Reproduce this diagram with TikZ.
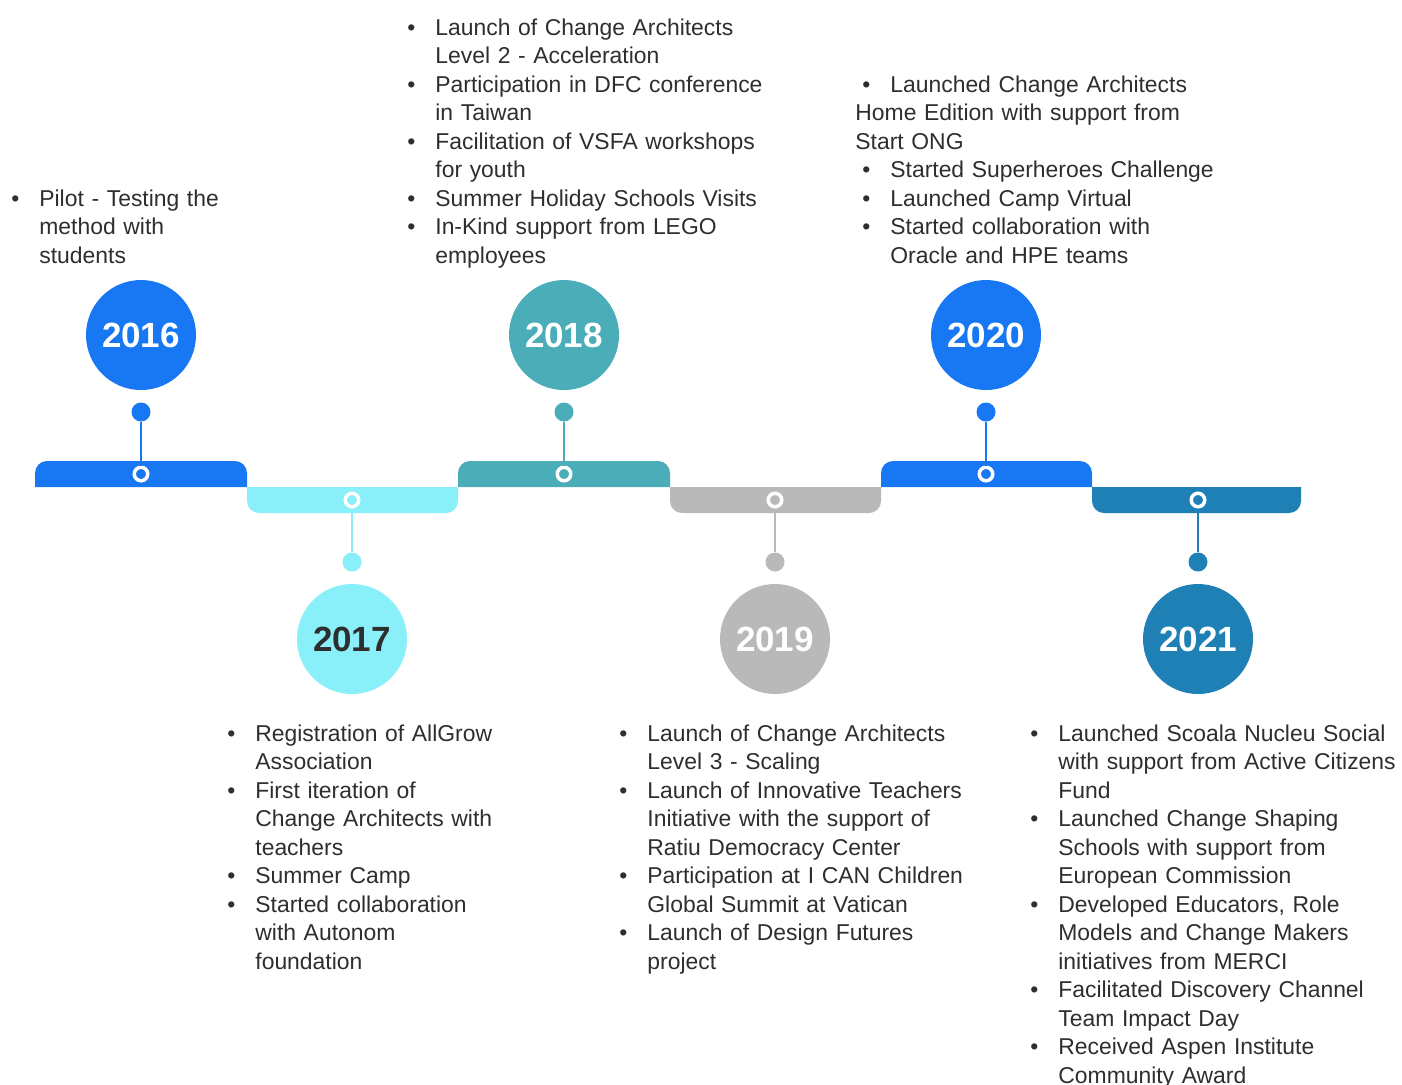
\documentclass[tikz,border=0pt]{standalone}
\usepackage{fontspec}
\setmainfont{Liberation Sans}
\usepackage{xcolor}
\usepackage{tikz}

\definecolor{cBlue}{HTML}{1877F2}
\definecolor{cCyan}{HTML}{89F0FA}
\definecolor{cTeal}{HTML}{4AADB8}
\definecolor{cGrey}{HTML}{B9B9B9}
\definecolor{cNavy}{HTML}{1E80B4}
\definecolor{cText}{HTML}{2E2E2E}

\newcommand{\bul}{\makebox[14pt][l]{\textbullet}}
\newcommand{\ind}{\hspace*{14pt}}

\begin{document}
\begin{tikzpicture}[
        x=0.5pt, y=-0.5pt,
        yearcircle/.style={circle, minimum size=55pt, inner sep=0pt, text=white, font=\fontsize{17.5}{20}\selectfont\bfseries},
        dot/.style={circle, minimum size=9.5pt, inner sep=0pt},
        ring/.style={circle, draw=white, line width=1.75pt, minimum size=6.75pt, inner sep=0pt},
        stem/.style={line width=1.4pt},
        note/.style={anchor=base west, inner sep=0pt, text width=190pt, align=left, text=cText, font=\fontsize{11.45}{14.25}\selectfont}
    ]

    \useasboundingbox (0,0) rectangle (1402,1084);

    % --- BAR ---
    \fill[cBlue, rounded corners=6pt] (35,487) -- (35,461) -- (247,461) -- (247,487);
    \fill[cCyan, rounded corners=6pt] (247,487) -- (247,513) -- (458,513) -- (458,487);
    \fill[cTeal, rounded corners=6pt] (458,487) -- (458,461) -- (670,461) -- (670,487);
    \fill[cGrey, rounded corners=6pt] (670,487) -- (670,513) -- (881,513) -- (881,487);
    \fill[cBlue, rounded corners=6pt] (881,487) -- (881,461) -- (1092,461) -- (1092,487);
    \fill[cNavy, rounded corners=6pt] (1092,487) -- (1092,513) -- (1301,513) -- (1301,487);

    % --- YEARS ---
    \node (y2016) [yearcircle, fill=cBlue] at (141,335) {2016};
    \node (y2017) [yearcircle, fill=cCyan, text=cText] at (352,639) {2017};
    \node (y2018) [yearcircle, fill=cTeal] at (564,335) {2018};
    \node (y2019) [yearcircle, fill=cGrey] at (775,639) {2019};
    \node (y2020) [yearcircle, fill=cBlue] at (986,335) {2020};
    \node (y2021) [yearcircle, fill=cNavy] at (1198,639) {2021};

    % --- DOTS AND RINGS ---
    \node (d2016) [dot, fill=cBlue] at (141,412) {};
    \node (d2017) [dot, fill=cCyan] at (352,562) {};
    \node (d2018) [dot, fill=cTeal] at (564,412) {};
    \node (d2019) [dot, fill=cGrey] at (775,562) {};
    \node (d2020) [dot, fill=cBlue] at (986,412) {};
    \node (d2021) [dot, fill=cNavy] at (1198,562) {};

    \node (r2016) [ring] at (141,474) {};
    \node (r2017) [ring] at (352,500) {};
    \node (r2018) [ring] at (564,474) {};
    \node (r2019) [ring] at (775,500) {};
    \node (r2020) [ring] at (986,474) {};
    \node (r2021) [ring] at (1198,500) {};

    \draw [stem, cBlue] (r2016) -- (d2016);
    \draw [stem, cCyan] (r2017) -- (d2017);
    \draw [stem, cTeal] (r2018) -- (d2018);
    \draw [stem, cGrey] (r2019) -- (d2019);
    \draw [stem, cBlue] (r2020) -- (d2020);
    \draw [stem, cNavy] (r2021) -- (d2021);

    % --- NOTES ---
    \node (n2016) [note] at (11,206) {\bul Pilot - Testing the\\
        \ind method with\\
        \ind students};

    \node (n2018) [note] at (407,35) {\bul Launch of Change Architects\\
        \ind Level 2 - Acceleration\\
        \bul Participation in DFC conference\\
        \ind in Taiwan\\
        \bul Facilitation of VSFA workshops\\
        \ind for youth\\
        \bul Summer Holiday Schools Visits\\
        \bul In-Kind support from LEGO\\
        \ind employees};

    \node (n2020) [note] at (855,92) {\hspace*{3.5pt}\bul Launched Change Architects\\
        Home Edition with support from\\
        Start ONG\\
        \hspace*{3.5pt}\bul Started Superheroes Challenge\\
        \hspace*{3.5pt}\bul Launched Camp Virtual\\
        \hspace*{3.5pt}\bul Started collaboration with\\
        \hspace*{17.5pt}Oracle and HPE teams};

    \node (n2017) [note] at (227,741) {\bul Registration of AllGrow\\
        \ind Association\\
        \bul First iteration of\\
        \ind Change Architects with\\
        \ind teachers\\
        \bul Summer Camp\\
        \bul Started collaboration\\
        \ind with Autonom\\
        \ind foundation};

    \node (n2019) [note] at (619,741) {\bul Launch of Change Architects\\
        \ind Level 3 - Scaling\\
        \bul Launch of Innovative Teachers\\
        \ind Initiative with the support of\\
        \ind Ratiu Democracy Center\\
        \bul Participation at I CAN Children\\
        \ind Global Summit at Vatican\\
        \bul Launch of Design Futures\\
        \ind project};

    \node (n2021) [note] at (1030,741) {\bul Launched Scoala Nucleu Social\\
        \ind with support from Active Citizens\\
        \ind Fund\\
        \bul Launched Change Shaping\\
        \ind Schools with support from\\
        \ind European Commission\\
        \bul Developed Educators, Role\\
        \ind Models and Change Makers\\
        \ind initiatives from MERCI\\
        \bul Facilitated Discovery Channel\\
        \ind Team Impact Day\\
        \bul Received Aspen Institute\\
        \ind Community Award};

\end{tikzpicture}
\end{document}
